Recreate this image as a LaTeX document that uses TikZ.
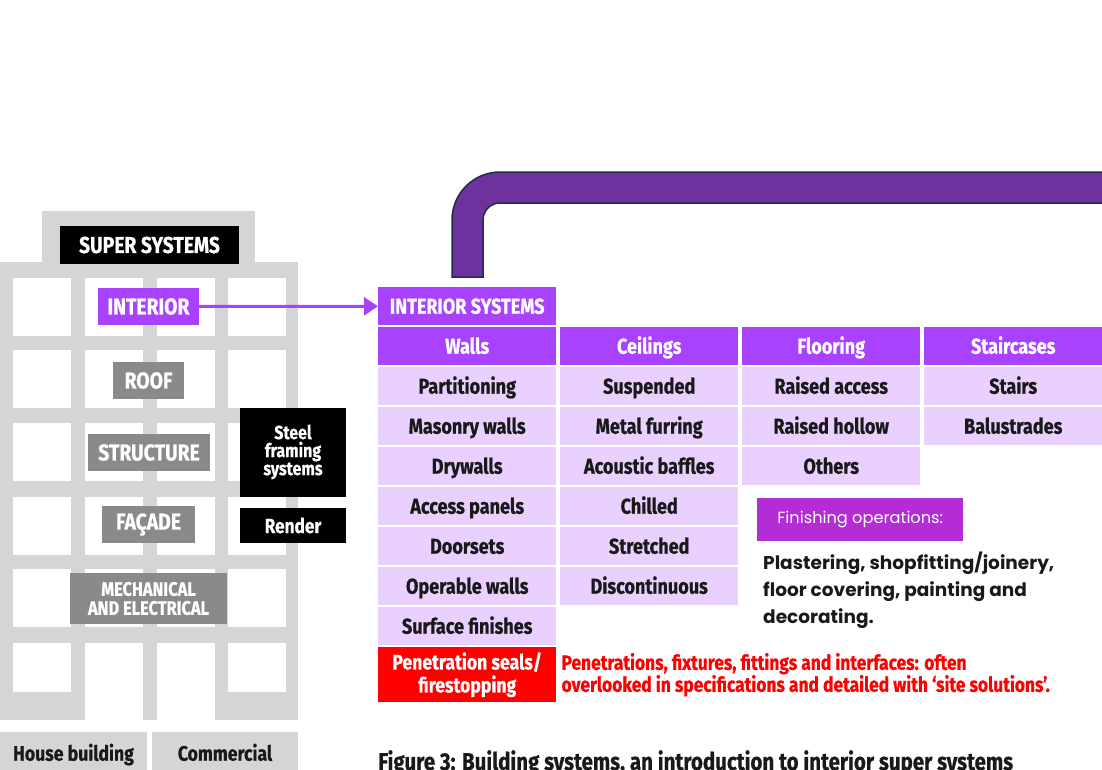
\documentclass[tikz,border=0pt]{standalone}
\usepackage{fontspec}
\setmainfont{Fira Sans}
\newfontfamily\condfont[FakeStretch=0.84, BoldFeatures={FakeBold=0.6}]{Fira Sans}
\newfontfamily\geofont{Poppins}
\usepackage{tikz}
\usetikzlibrary{arrows.meta,positioning}
\usepackage{xcolor}

\definecolor{bldgray}{RGB}{212,213,215}
\definecolor{labgray}{RGB}{138,138,138}
\definecolor{hdrpurple}{RGB}{168,66,255}
\definecolor{cellpurple}{RGB}{234,208,255}
\definecolor{barpurple}{RGB}{111,49,158}
\definecolor{bardark}{RGB}{30,45,75}
\definecolor{finpurple}{RGB}{180,44,214}
\definecolor{penred}{RGB}{255,0,0}
\definecolor{inkblack}{RGB}{25,25,25}

\newcommand{\cellfont}{\condfont\bfseries\fontsize{21.5}{23}\selectfont}
\newcommand{\tagfont}{\condfont\bfseries\fontsize{23}{17}\selectfont}

\tikzset{
  hdrbox/.style={fill=hdrpurple, text=white, minimum width=178, minimum height=38,
    inner sep=0, text height=15, text depth=0, anchor=north west, font=\cellfont},
  cellbox/.style={fill=cellpurple, text=inkblack, minimum width=178, minimum height=38,
    inner sep=0, text height=15, text depth=0, anchor=north west, font=\cellfont},
  graytag/.style={fill=labgray, text=white, inner sep=0, font=\tagfont, align=center},
  blacktag/.style={fill=black, text=white, inner sep=0, font=\tagfont, align=center},
  basetag/.style={fill=bldgray, text=inkblack, inner sep=0, font=\tagfont, anchor=north},
}

\begin{document}
\begin{tikzpicture}[x=1pt, y=-1pt]
  \useasboundingbox (0,0) rectangle (1102,769);
  \clip (0,0) rectangle (1102,769);

  % building
  \fill[bldgray] (42,211) rectangle (255,262);
  \fill[bldgray] (0,262) rectangle (298,720);
  \foreach \x in {13,85,157,228}
    \foreach \y in {278,350,423,497,569}
      \fill[white] (\x,\y) rectangle +(58,58);
  \foreach \x in {13,228} \fill[white] (\x,643) rectangle +(58,49);
  \foreach \x in {85,157} \fill[white] (\x,643) rectangle +(58,77);

  \node[blacktag, minimum width=179, minimum height=38] (super) at (149.5,245) {SUPER SYSTEMS};
  \node[graytag, fill=hdrpurple, minimum width=101, minimum height=37] (interior) at (148.5,306.5) {INTERIOR};
  \node[graytag, minimum width=71, minimum height=37] (roof) at (148.5,380.5) {ROOF};
  \node[graytag, minimum width=122, minimum height=37] (structure) at (149,452.5) {STRUCTURE};
  \node[graytag, minimum width=93, minimum height=37] (facade) at (148.5,524.5) {FAÇADE};
  \node[graytag, minimum width=157, minimum height=51,
    font=\condfont\bfseries\fontsize{19.5}{19}\selectfont] (mech) at (148.5,598.5)
    {MECHANICAL\\AND ELECTRICAL};
  \node[blacktag, minimum width=106, minimum height=89,
    font=\condfont\bfseries\fontsize{19}{18}\selectfont] (steel) at (293,452)
    {Steel\\framing\\systems};
  \node[blacktag, minimum width=106, minimum height=35,
    font=\condfont\bfseries\fontsize{20.5}{17}\selectfont] (render) at (293,525.5) {Render};
  \node[basetag, minimum width=147, minimum height=56, text depth=16,
    font=\condfont\bfseries\fontsize{21}{17}\selectfont] (house) at (73.5,732) {House building};
  \node[basetag, minimum width=146, minimum height=56, text depth=16,
    font=\condfont\bfseries\fontsize{21}{17}\selectfont] (commercial) at (225,732) {Commercial};

  % interior systems table
  \node[hdrbox] (intsys) at (378,287) {INTERIOR SYSTEMS};
  \node[hdrbox] (walls) at (378,327) {Walls};
  \node[hdrbox] (ceilings) at (560,327) {Ceilings};
  \node[hdrbox] (flooring) at (742,327) {Flooring};
  \node[hdrbox] (stairs) at (924,327) {Staircases};

  \foreach \txt [count=\i] in {Partitioning, Masonry walls, Drywalls, Access panels,
      Doorsets, Operable walls, Surface finishes}
    \node[cellbox] (walls\i) at (378,{327+40*\i}) {\txt};
  \foreach \txt [count=\i] in {Suspended, Metal furring, Acoustic baffles, Chilled,
      Stretched, Discontinuous}
    \node[cellbox] (ceilings\i) at (560,{327+40*\i}) {\txt};
  \foreach \txt [count=\i] in {Raised access, Raised hollow, Others}
    \node[cellbox] (flooring\i) at (742,{327+40*\i}) {\txt};
  \foreach \txt [count=\i] in {Stairs, Balustrades}
    \node[cellbox] (stairs\i) at (924,{327+40*\i}) {\txt};

  \node[cellbox, fill=penred, text=white, minimum height=55, align=center,
    text height=, text depth=,
    font=\condfont\bfseries\fontsize{21}{23}\selectfont] (seals) at (378,647)
    {Penetration seals/\\firestopping};
  \node[anchor=west, text=penred, inner sep=0, align=left,
    font=\condfont\bfseries\fontsize{20.7}{22}\selectfont] (penote) at ([xshift=5]seals.east)
    {Penetrations, fixtures, fittings and interfaces: often\\
     overlooked in specifications and detailed with ‘site solutions’.};

  % finishing operations
  \node[fill=finpurple, text=white, minimum width=206, minimum height=43, inner sep=0,
    anchor=north west, font=\geofont\fontsize{16.2}{18}\selectfont] (finish) at (757,498)
    {Finishing operations:};
  \node[anchor=north west, inner sep=0, align=left, text=inkblack,
    font=\geofont\bfseries\fontsize{18.5}{27}\selectfont] (plaster) at (763,552)
    {Plastering, shopfitting/joinery,\\floor covering, painting and\\decorating.};

  % connector and bar
  \draw[hdrpurple, line width=3, -{Triangle[length=14, width=18]}] (interior) -- (intsys);
  \filldraw[fill=barpurple, draw=bardark, line width=1.5]
    (452,277) -- (452,220) arc[start angle=180, end angle=270, radius=48]
    -- (1110,172) -- (1110,203) -- (500,203)
    arc[start angle=270, end angle=180, radius=17] -- (483,277) -- cycle;

  \node[anchor=base west, inner sep=0, text=inkblack,
    font=\condfont\bfseries\fontsize{24.4}{26}\selectfont] (caption) at (378,770)
    {Figure 3: Building systems, an introduction to interior super systems};
\end{tikzpicture}
\end{document}
